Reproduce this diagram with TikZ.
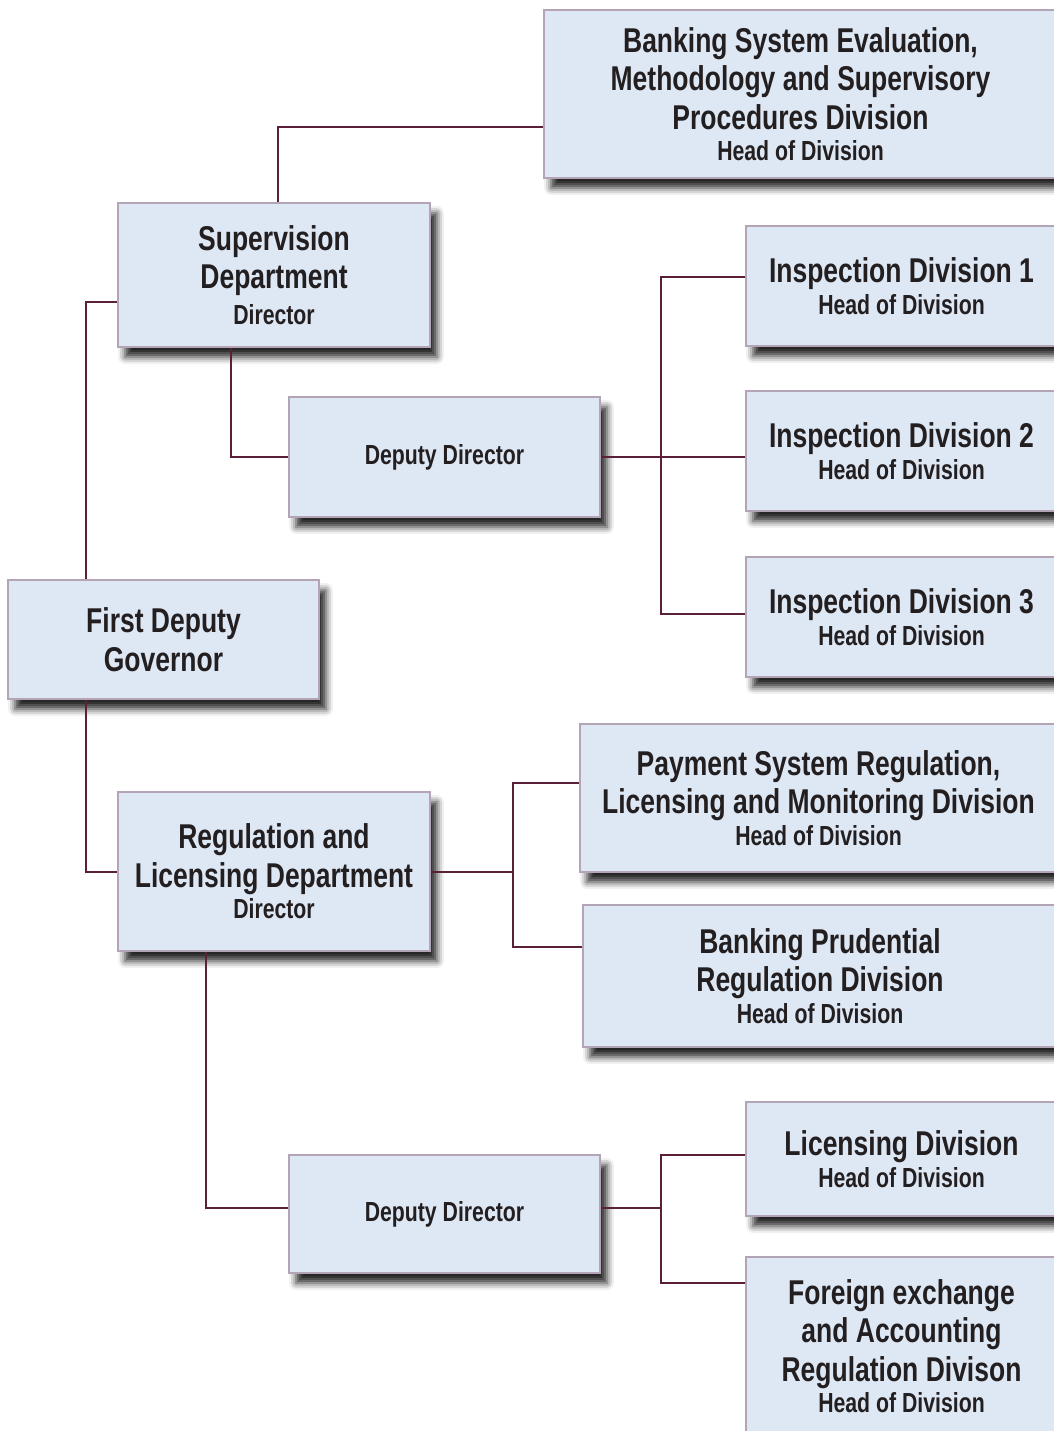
\documentclass[tikz,border=0pt]{standalone}
\usepackage{fontspec}
\setmainfont{Liberation Sans}[FakeStretch=0.77]
\usetikzlibrary{shadows.blur}
\definecolor{boxfill}{HTML}{DEE7F4}
\definecolor{boxline}{HTML}{B3A4B6}
\definecolor{conn}{HTML}{5B1F3A}
\definecolor{txt}{HTML}{231F20}
\newcommand{\bigt}{\fontsize{17.2}{19.25}\selectfont\bfseries}
\newcommand{\smallt}{\fontsize{13.8}{15}\selectfont\bfseries}
\tikzset{
  box/.style={draw=boxline, fill=boxfill, line width=1.2pt, align=center, inner sep=0pt,
    text=txt, font=\bigt,
    blur shadow={shadow xshift=3.5pt, shadow yshift=-5pt, shadow blur radius=3.5pt, shadow opacity=85}},
  conline/.style={draw=conn, line width=1pt}
}
\begin{document}
\begin{tikzpicture}[x=0.5pt, y=-0.5pt]
\useasboundingbox (0,0) rectangle (1054,1431);
\clip (0,0) rectangle (1054,1431);
% boxes
\node[box, minimum width=256.5pt, minimum height=84pt] (bse) at (800.5,94)
  {Banking System Evaluation,\\Methodology and Supervisory\\Procedures Division\\[-3.5pt]{\smallt Head of Division}};
\node[box, minimum width=156pt, minimum height=72pt] (sup) at (274,275)
  {Supervision\\Department\\[-1.5pt]{\smallt Director}};
\node[box, minimum width=155.5pt, minimum height=60pt] (dd1) at (444.5,457)
  {\smallt Deputy Director};
\node[box, minimum width=155.5pt, minimum height=60pt] (i1) at (901.5,286)
  {Inspection Division 1\\[-3.5pt]{\smallt Head of Division}};
\node[box, minimum width=155.5pt, minimum height=60pt] (i2) at (901.5,451)
  {Inspection Division 2\\[-3.5pt]{\smallt Head of Division}};
\node[box, minimum width=155.5pt, minimum height=60pt] (i3) at (901.5,617)
  {Inspection Division 3\\[-3.5pt]{\smallt Head of Division}};
\node[box, minimum width=155.5pt, minimum height=59.5pt] (fdg) at (163.5,639.5)
  {First Deputy\\Governor};
\node[box, minimum width=238.5pt, minimum height=74pt] (pay) at (818.5,798)
  {Payment System Regulation,\\Licensing and Monitoring Division\\[-3.5pt]{\smallt Head of Division}};
\node[box, minimum width=156pt, minimum height=79.5pt] (reg) at (274,871.5)
  {Regulation and\\Licensing Department\\[-3.5pt]{\smallt Director}};
\node[box, minimum width=237pt, minimum height=71pt] (bp) at (820,976)
  {Banking Prudential\\Regulation Division\\[-3.5pt]{\smallt Head of Division}};
\node[box, minimum width=155.5pt, minimum height=59pt] (dd2) at (444.5,1214)
  {\smallt Deputy Director};
\node[box, minimum width=155.5pt, minimum height=57pt] (lic) at (901.5,1159)
  {Licensing Division\\[-3.5pt]{\smallt Head of Division}};
\node[box, minimum width=155.5pt, minimum height=89pt] (fx) at (901.5,1346)
  {Foreign exchange\\and Accounting\\Regulation Divison\\[-3.5pt]{\smallt Head of Division}};
% junctions
\coordinate (t1) at ([xshift=30pt]dd1.east);
\coordinate (t2) at ([xshift=41pt]reg.east);
\coordinate (t3) at ([xshift=30pt,yshift=3pt]dd2.east);
% connectors
\draw[conline] ([xshift=2pt]sup.north) |- ([yshift=-16.5pt]bse.west);
\draw[conline] ([xshift=-38.75pt]fdg.north) |- ([yshift=-13.5pt]sup.west);
\draw[conline] ([xshift=-38.75pt]fdg.south) |- (reg.west);
\draw[conline] ([xshift=-21.5pt]sup.south) |- (dd1.west);
\draw[conline] (dd1.east) -- (dd1.east -| i2.west);
\draw[conline] ([yshift=4.5pt]i1.west) -| (t1) |- ([yshift=1.5pt]i3.west);
\draw[conline] (reg.east) -- (t2);
\draw[conline] ([yshift=7.5pt]pay.west) -| (t2) |- ([yshift=14.5pt]bp.west);
\draw[conline] ([xshift=-34pt]reg.south) |- ([yshift=3pt]dd2.west);
\draw[conline] ([yshift=3pt]dd2.east) -- (t3);
\draw[conline] ([yshift=2pt]lic.west) -| (t3) |- ([yshift=31.5pt]fx.west);
\end{tikzpicture}
\end{document}
